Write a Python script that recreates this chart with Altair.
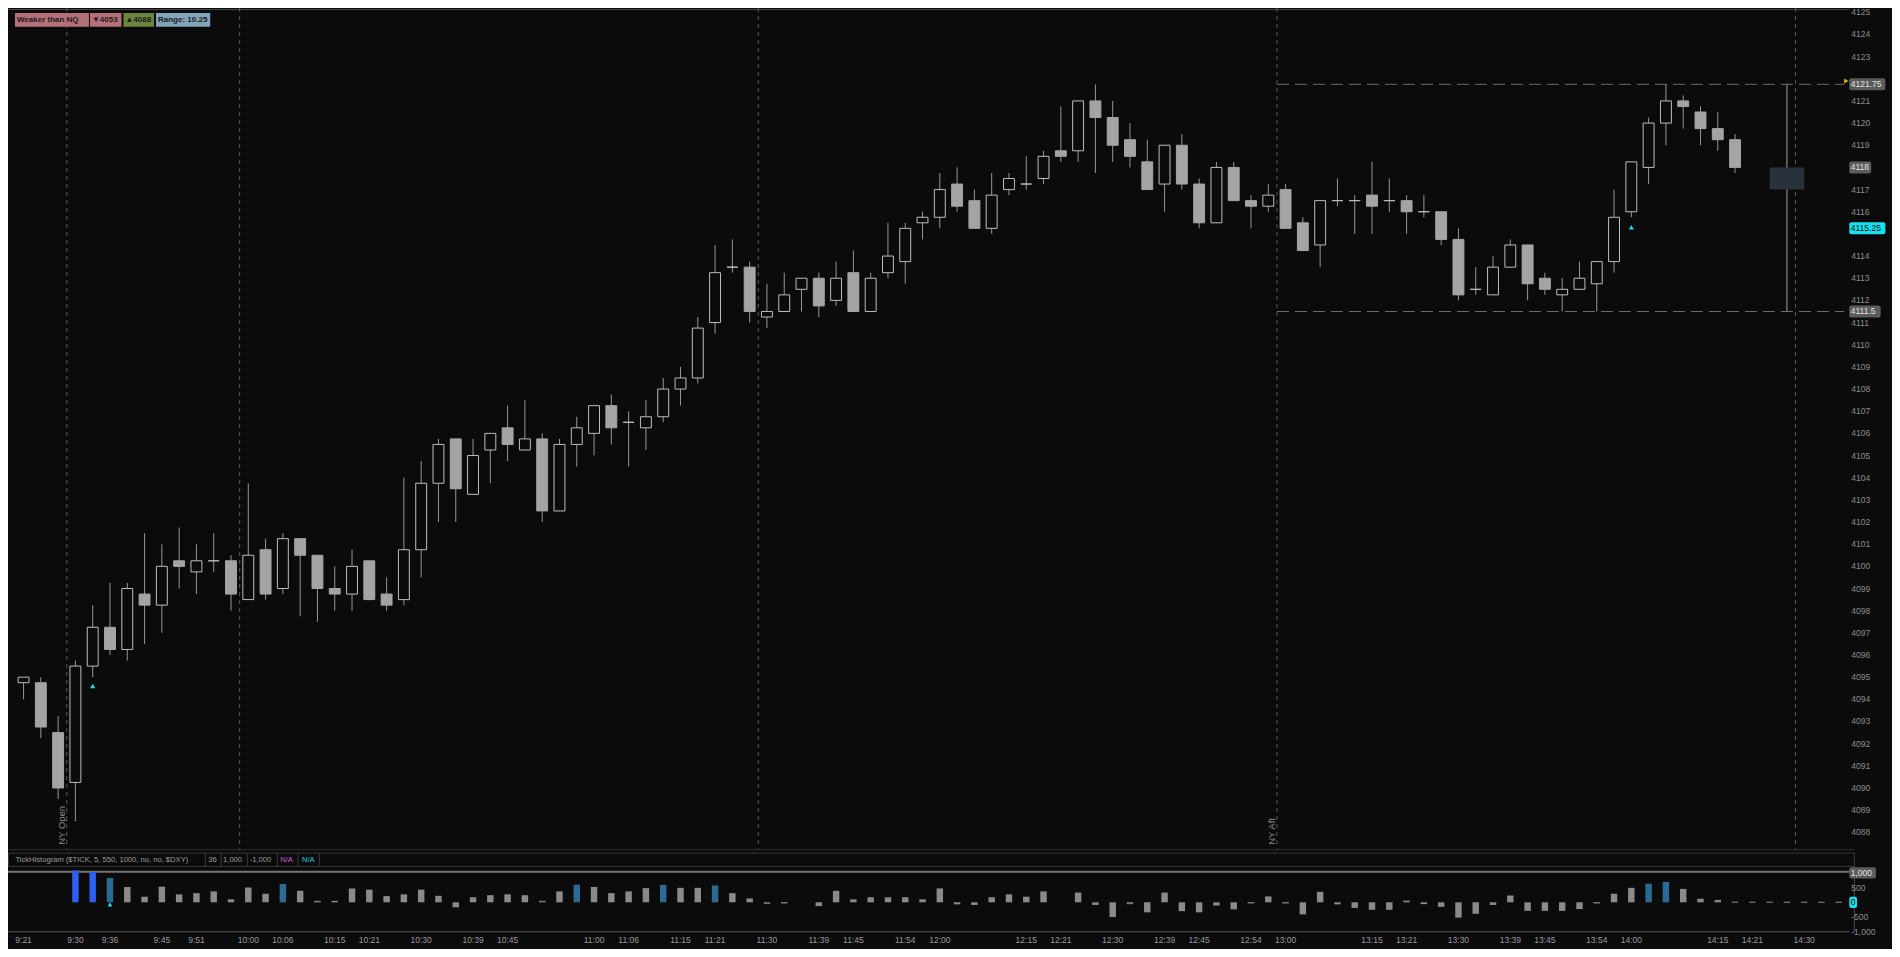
# %%
import altair as alt
import pandas as pd

# %%
# 3-minute candles, first bar 9:21
first_bar = "9:21"
opens = [
    4094.75, 4094.75, 4092.5, 4090.25, 4095.5, 4097.25, 4096.25, 4098.75, 4098.25, 4100.25,
    4099.75, 4100.25, 4100.25, 4098.5, 4100.75, 4099, 4101.25, 4100.5, 4099, 4098.75,
    4100.25, 4098.75, 4098.5, 4100.75, 4103.75, 4105.75, 4103.25, 4105.25, 4106.25, 4105.25,
    4105.75, 4102.5, 4105.5, 4106, 4107.25, 4106.5, 4106.25, 4106.75, 4108, 4108.5,
    4111, 4113.5, 4113.5, 4111.25, 4111.5, 4112.5, 4113, 4112, 4113.25, 4111.5,
    4113.25, 4113.75, 4115.5, 4115.75, 4117.25, 4116.5, 4115.25, 4117, 4117.25, 4117.5,
    4118.75, 4118.75, 4121, 4120.25, 4119.25, 4118.25, 4117.25, 4119, 4117.25, 4115.5,
    4118, 4116.5, 4116.25, 4117, 4115.5, 4114.5, 4116.5, 4116.5, 4116.75, 4116.5,
    4116.5, 4116, 4116, 4114.75, 4112.5, 4112.25, 4113.5, 4114.5, 4113, 4112.25,
    4112.5, 4112.75, 4113.75, 4116, 4118, 4120, 4121, 4120.5, 4119.75, 4119.25,
]
highs = [
    4095, 4095, 4093.25, 4095.75, 4098.25, 4099.25, 4099.25, 4101.5, 4101, 4101.75,
    4101, 4101.5, 4100.5, 4103.75, 4101.25, 4101.5, 4101.25, 4100.5, 4100, 4100.75,
    4100.25, 4099.5, 4104, 4104.75, 4105.75, 4105.75, 4105.75, 4106, 4107.25, 4107.5,
    4106, 4105.75, 4106.75, 4107.25, 4107.75, 4107, 4107.5, 4108.5, 4109, 4111.25,
    4114.5, 4114.75, 4113.75, 4112.75, 4113.25, 4113, 4113.25, 4113.75, 4114.25, 4113.25,
    4115.5, 4115.5, 4116, 4117.75, 4118, 4117, 4117.75, 4117.75, 4118.5, 4118.75,
    4120.75, 4121, 4121.75, 4121, 4120, 4119.25, 4119, 4119.5, 4117.5, 4118.25,
    4118.25, 4116.75, 4117.25, 4117.25, 4115.75, 4116.5, 4117.5, 4116.75, 4118.25, 4117.5,
    4116.75, 4116.75, 4116, 4115.25, 4113.5, 4114, 4114.75, 4114.5, 4113.25, 4113,
    4113.75, 4113.75, 4117, 4118.25, 4120.25, 4121.75, 4121.25, 4120.75, 4120.5, 4119.5,
]
lows = [
    4094, 4092.25, 4089.5, 4088.5, 4095, 4096, 4095.75, 4096.5, 4097, 4099,
    4098.75, 4099.75, 4098, 4098.5, 4098.5, 4098.75, 4097.75, 4097.5, 4098, 4098,
    4098.5, 4098, 4098.25, 4099.5, 4102, 4102, 4103.25, 4103.75, 4104.75, 4105.25,
    4102, 4102.5, 4104.5, 4105, 4105.5, 4104.5, 4105.25, 4106.5, 4107.25, 4108.25,
    4110.5, 4113.25, 4111, 4110.75, 4111.5, 4111.5, 4111.25, 4111.75, 4111.5, 4111.5,
    4113, 4112.75, 4114.75, 4115.25, 4116, 4115.25, 4115, 4116.75, 4117, 4117.25,
    4118.25, 4118.25, 4117.75, 4118.25, 4118, 4117, 4116, 4117, 4115.25, 4115.5,
    4116.5, 4115.25, 4116, 4115.25, 4114.25, 4113.5, 4116.25, 4115, 4115, 4116,
    4115, 4115.75, 4114.5, 4112, 4112.25, 4112.25, 4113.5, 4112, 4112.25, 4111.5,
    4112.5, 4111.5, 4113.25, 4115.75, 4117.25, 4119, 4119.75, 4119, 4118.75, 4117.75,
]
closes = [
    4095, 4092.75, 4090, 4095.5, 4097.25, 4096.25, 4099, 4098.25, 4100, 4100,
    4100.25, 4100.25, 4098.75, 4100.5, 4098.75, 4101.25, 4100.5, 4099, 4098.75, 4100,
    4098.5, 4098.25, 4100.75, 4103.75, 4105.5, 4103.5, 4105, 4106, 4105.5, 4105.75,
    4102.5, 4105.5, 4106.25, 4107.25, 4106.25, 4106.5, 4106.75, 4108, 4108.5, 4110.75,
    4113.25, 4113.5, 4111.5, 4111.5, 4112.25, 4113, 4111.75, 4113, 4111.5, 4113,
    4114, 4115.25, 4115.75, 4117, 4116.25, 4115.25, 4116.75, 4117.5, 4117.25, 4118.5,
    4118.5, 4121, 4120.25, 4119, 4118.5, 4117, 4119, 4117.25, 4115.5, 4118,
    4116.5, 4116.25, 4116.75, 4115.25, 4114.25, 4116.5, 4116.5, 4116.5, 4116.25, 4116.5,
    4116, 4116, 4114.75, 4112.25, 4112.5, 4113.5, 4114.5, 4112.75, 4112.5, 4112.5,
    4113, 4113.75, 4115.75, 4118.25, 4120, 4121, 4120.75, 4119.75, 4119.25, 4118,
]

# $TICK histogram, first bar 9:30 (None = no bar, trailing zeros = empty future slots)
tick_start = "9:30"
tick_vals = [
    1080, 1030, 820, 520, 190, 530, 270, 310, 370, 100,
    500, 290, 620, 390, 30, 50, 470, 430, 210, 270,
    430, 220, -170, 170, 240, 270, 240, 30, 370, 600,
    520, 310, 370, 480, 590, 490, 490, 570, 310, 130,
    -50, -20, None, -130, 390, 100, 170, 170, 170, 100,
    470, -70, -90, 170, 270, 190, 370, None, 330, -90,
    -500, -40, -340, 330, -300, -340, -110, -240, -20, 200,
    -20, -410, 355, -70, -190, -255, -255, 40, -60, -155,
    -520, -390, -90, 230, -290, -290, -290, -230, -20, 290,
    490, 630, 690, 455, 120, 80, 0, 0, 0, 0,
    0, 0, 0,
]
tick_params = (550, 1000)

time_labels = [
    "9:21", "9:30", "9:36", "9:45", "9:51", "10:00", "10:06", "10:15", "10:21",
    "10:30", "10:39", "10:45", "11:00", "11:06", "11:15", "11:21", "11:30",
    "11:39", "11:45", "11:54", "12:00", "12:15", "12:21", "12:30", "12:39",
    "12:45", "12:54", "13:00", "13:15", "13:21", "13:30", "13:39", "13:45",
    "13:54", "14:00", "14:15", "14:21", "14:30",
]
session_breaks = ["9:30", "10:00", "11:30", "13:00", "14:30"]
session_names = ["NY Open", "", "", "NY Aft", ""]
range_from = "13:00"
price_ticks = list(range(4088, 4126))
tick_axis = [1000, 500, 0, -500, -1000]
signal_times = ["9:33", "14:00"]
signal_prices = [4094.6, 4115.3]
tick_signal_time, tick_signal_val = "9:36", -70
study_level = 4115.25
proj_time, proj_lo, proj_hi = "14:27", 4117, 4118
badge_texts = ["Weaker than NQ", "▼4053", "▲4088"]

# %%
W, H = 1884, 941
SX, SY = W / 1900, H / 957
BG = "#0b0b0b"
FONT = "Liberation Sans, Arial, sans-serif"
ONE = pd.DataFrame({"k": [0]})


def px(r):
    return r * SX


def py(r):
    return r * SY


def bar_index(t):
    h, m = (int(s) for s in t.split(":"))
    h0, m0 = (int(s) for s in first_bar.split(":"))
    return ((h * 60 + m) - (h0 * 60 + m0)) / 3


def ref_idx(r):
    # screen x of the reference -> bar number
    return (r - 10.7) / 17.53


def price_at(r):
    return 4121 - (r - 94.5) / 22.54


xs = alt.Scale(domain=[ref_idx(0), ref_idx(1857)], range=[0, px(1857)], nice=False, zero=False)
ps = alt.Scale(domain=[price_at(856), price_at(0)], range=[py(856), 0], nice=False, zero=False)
ts = alt.Scale(domain=[-1000, 1000], range=[py(939.5), py(879.5)], nice=False, zero=False)


def X(f):
    return alt.X(f, scale=xs, axis=None, title=None)


def YP(f):
    return alt.Y(f, scale=ps, axis=None, title=None)


def YT(f):
    return alt.Y(f, scale=ts, axis=None, title=None)


def hline(y, x0, x1, color, width=1):
    return alt.Chart(ONE).mark_rule(color=color, strokeWidth=width).encode(
        x=alt.value(px(x0)), x2=alt.value(px(x1)), y=alt.value(py(y))
    )


def vline(x, y0, y1, color, width=1):
    return alt.Chart(ONE).mark_rule(color=color, strokeWidth=width).encode(
        x=alt.value(px(x)), y=alt.value(py(y0)), y2=alt.value(py(y1))
    )


fmt = lambda p: f"{p:g}"

# %%
cd = pd.DataFrame({"idx": range(len(opens)), "open": opens, "high": highs, "low": lows, "close": closes})
cd["lo"] = cd[["open", "close"]].min(axis=1)
cd["hi"] = cd[["open", "close"]].max(axis=1)
up = cd[cd["close"] >= cd["open"]]
dn = cd[cd["close"] < cd["open"]]

after = cd[cd["idx"] >= bar_index(range_from)]
rng_hi, rng_lo = after["high"].max(), after["low"].min()

t0 = bar_index(tick_start)
hd = pd.DataFrame({"idx": [t0 + k for k in range(len(tick_vals))], "v": tick_vals}).dropna()
hd["zero"] = 0
hd["level"] = [
    "extreme" if abs(v) >= tick_params[1] else "high" if abs(v) >= tick_params[0] else "normal"
    for v in hd["v"]
]
flat = hd[hd["v"].abs() < 50]

sess = pd.DataFrame({"idx": [bar_index(t) - 0.5 for t in session_breaks], "name": session_names})

# %%
layers = []

# frame lines
layers.append(hline(1.5, 0, 1857, "#4a4a4a"))
layers.append(hline(856, 0, 1862, "#333333"))
layers.append(
    alt.Chart(ONE).mark_rect(fill=BG, stroke="#3a3a3a", strokeWidth=1).encode(
        x=alt.value(px(0.5)), x2=alt.value(px(1862)), y=alt.value(py(859.5)), y2=alt.value(py(873))
    )
)
layers.append(hline(878.5, 0, 1857, "#727272", 2))
layers.append(hline(939.5, 0, 1857, "#575757"))
layers.append(vline(1862, 873, 940, "#4a4a4a"))

# session separators and names
layers.append(
    alt.Chart(sess).mark_rule(color="#575757", strokeDash=[4, 4], strokeWidth=1).encode(
        x=X("idx:Q"), y=alt.value(0), y2=alt.value(py(855))
    )
)
layers.append(
    alt.Chart(sess).mark_text(angle=270, align="left", baseline="bottom", fontSize=9.5,
                              color="#8a8a8a", font=FONT).encode(
        x=X("idx:Q"), y=alt.value(py(851)), text="name:N"
    )
)

# range since the afternoon session
rl = pd.DataFrame({"p": [rng_hi, rng_lo], "x0": bar_index(range_from) - 0.5, "x1": ref_idx(1857)})
layers.append(
    alt.Chart(rl).mark_rule(color="#6c6c6c", strokeDash=[12, 6], strokeWidth=1).encode(
        x=X("x0:Q"), x2="x1:Q", y=YP("p:Q")
    )
)
rv = pd.DataFrame({"idx": [bar_index(proj_time)], "lo": [rng_lo], "hi": [rng_hi],
                   "b0": [proj_lo], "b1": [proj_hi]})
layers.append(
    alt.Chart(rv).mark_rule(color="#a0a0a0", strokeWidth=1).encode(x=X("idx:Q"), y=YP("lo:Q"), y2="hi:Q")
)
rv["x0"] = rv["idx"] - 1
rv["x1"] = rv["idx"] + 1
layers.append(
    alt.Chart(rv).mark_rect(fill="#29323a").encode(x=X("x0:Q"), x2="x1:Q", y=YP("b0:Q"), y2="b1:Q")
)

# candles
layers.append(
    alt.Chart(cd).mark_rule(color="#969696", strokeWidth=1).encode(x=X("idx:Q"), y=YP("low:Q"), y2="high:Q")
)
layers.append(
    alt.Chart(up).mark_bar(size=px(11), fill=BG, stroke="#bdbdbd", strokeWidth=1).encode(
        x=X("idx:Q"), y=YP("lo:Q"), y2="hi:Q"
    )
)
layers.append(
    alt.Chart(dn).mark_bar(size=px(11), fill="#a4a4a4", stroke="#a4a4a4", strokeWidth=1).encode(
        x=X("idx:Q"), y=YP("lo:Q"), y2="hi:Q"
    )
)
sig = pd.DataFrame({"idx": [bar_index(t) for t in signal_times], "p": signal_prices})
layers.append(
    alt.Chart(sig).mark_point(shape="triangle-up", filled=True, size=26, color="#1fd8e6", opacity=1).encode(
        x=X("idx:Q"), y=YP("p:Q")
    )
)

# price axis (tags hide the plain labels they sit on)
tag_levels = [rng_hi, closes[-1], study_level, rng_lo]
pt = pd.DataFrame({"p": [p for p in price_ticks if min(abs(p - t) for t in tag_levels) > 0.3],
                   "x": ref_idx(1864)})
layers.append(
    alt.Chart(pt).mark_text(align="left", baseline="middle", fontSize=8.5, color="#8e8e8e", font=FONT).encode(
        x=X("x:Q"), y=YP("p:Q"), text=alt.Text("p:Q", format="d")
    )
)


def tags(rows, half):
    df = pd.DataFrame(rows, columns=["p", "label", "fill", "ink"])
    df["x0"] = ref_idx(1862)
    df["x1"] = [ref_idx(1862 + 4.8 * len(s) + 3) for s in df["label"]]
    df["xt"] = ref_idx(1863.5)
    df["y0"] = df["p"] - half
    df["y1"] = df["p"] + half
    return df


price_tags = tags(
    [(rng_hi, fmt(rng_hi), "#5c5c5c", "#e2e2e2"),
     (closes[-1], fmt(closes[-1]), "#5c5c5c", "#e2e2e2"),
     (study_level, fmt(study_level), "#19e0ef", "#0b0b0b"),
     (rng_lo, fmt(rng_lo), "#5c5c5c", "#e2e2e2")],
    0.27,
)
layers.append(
    alt.Chart(price_tags).mark_rect(cornerRadius=2).encode(
        x=X("x0:Q"), x2="x1:Q", y=YP("y0:Q"), y2="y1:Q", fill=alt.Fill("fill:N", scale=None)
    )
)
layers.append(
    alt.Chart(price_tags).mark_text(align="left", baseline="middle", fontSize=8.5, font=FONT).encode(
        x=X("xt:Q"), y=YP("p:Q"), text="label:N", color=alt.Color("ink:N", scale=None)
    )
)
mk = pd.DataFrame({"x": [ref_idx(1859)], "p": [rng_hi + 0.15]})
layers.append(
    alt.Chart(mk).mark_point(shape="triangle-right", filled=True, size=26, color="#dfae00", opacity=1).encode(
        x=X("x:Q"), y=YP("p:Q")
    )
)

# tick histogram
layers.append(
    alt.Chart(hd).mark_bar(size=px(6.5)).encode(
        x=X("idx:Q"), y=YT("zero:Q"), y2="v:Q",
        color=alt.Color("level:N", legend=None,
                        scale=alt.Scale(domain=["extreme", "high", "normal"],
                                        range=["#2d60f2", "#2b6b93", "#8a8a8a"])),
    )
)
layers.append(
    alt.Chart(flat).mark_tick(orient="horizontal", size=px(6.5), thickness=1.5, color="#8a8a8a").encode(
        x=X("idx:Q"), y=YT("v:Q")
    )
)
ts_sig = pd.DataFrame({"idx": [bar_index(tick_signal_time)], "v": [tick_signal_val]})
layers.append(
    alt.Chart(ts_sig).mark_point(shape="triangle-up", filled=True, size=22, color="#1fd8e6", opacity=1).encode(
        x=X("idx:Q"), y=YT("v:Q")
    )
)
tick_tags = tags(
    [(1000, "1,000", "#5c5c5c", "#e2e2e2"), (0, "0", "#19e0ef", "#0b0b0b")],
    190,
)
plain = pd.DataFrame({"v": [v for v in tick_axis if v not in (1000, 0)], "x": ref_idx(1864)})
plain["label"] = [f"{v:,}" for v in plain["v"]]
layers.append(
    alt.Chart(plain).mark_text(align="left", baseline="middle", fontSize=8.5, color="#8e8e8e", font=FONT).encode(
        x=X("x:Q"), y=YT("v:Q"), text="label:N"
    )
)
layers.append(
    alt.Chart(tick_tags).mark_rect(cornerRadius=2).encode(
        x=X("x0:Q"), x2="x1:Q", y=YT("y0:Q"), y2="y1:Q", fill=alt.Fill("fill:N", scale=None)
    )
)
layers.append(
    alt.Chart(tick_tags).mark_text(align="left", baseline="middle", fontSize=8.5, font=FONT).encode(
        x=X("xt:Q"), y=YT("p:Q"), text="label:N", color=alt.Color("ink:N", scale=None)
    )
)

# study header strip
head = pd.DataFrame({
    "label": ["TickHistogram ($TICK, 5, 550, 1000, no, no, $DXY)", "36", "1,000", "-1,000", "N/A", "N/A"],
    "x": [ref_idx(r) for r in [2.5, 198, 213, 240, 271, 293]],
    "ink": ["#9c9c9c", "#9c9c9c", "#9c9c9c", "#9c9c9c", "#c65bd6", "#25cbdb"],
})
layers.append(
    alt.Chart(head).mark_text(align="left", baseline="middle", fontSize=7.6, font=FONT).encode(
        x=X("x:Q"), y=alt.value(py(866.5)), text="label:N", color=alt.Color("ink:N", scale=None)
    )
)
seps = pd.DataFrame({"x": [ref_idx(r) for r in [195, 211, 237.5, 268, 289, 310.6]]})
layers.append(
    alt.Chart(seps).mark_rule(color="#3a3a3a", strokeWidth=1).encode(
        x=X("x:Q"), y=alt.value(py(859.5)), y2=alt.value(py(873))
    )
)

# time axis
tl = pd.DataFrame({"label": time_labels, "idx": [bar_index(t) for t in time_labels]})
layers.append(
    alt.Chart(tl).mark_text(align="center", baseline="middle", fontSize=8.5, color="#9a9a9a", font=FONT).encode(
        x=X("idx:Q"), y=alt.value(py(948)), text="label:N"
    )
)

# top-left badges
badges = pd.DataFrame({
    "label": badge_texts + [f"Range: {rng_hi - rng_lo:g}"],
    "x0": [ref_idx(r) for r in [2, 78, 112, 145]],
    "x1": [ref_idx(r) for r in [77, 110, 143, 200]],
    "xt": [ref_idx(r) for r in [4, 80, 114, 147]],
    "fill": ["#b46f79", "#b46f79", "#6b853d", "#82a4b9"],
})
layers.append(
    alt.Chart(badges).mark_rect().encode(
        x=X("x0:Q"), x2="x1:Q", y=alt.value(py(5)), y2=alt.value(py(19)),
        fill=alt.Fill("fill:N", scale=None)
    )
)
layers.append(
    alt.Chart(badges).mark_text(align="left", baseline="middle", fontSize=8, fontWeight="bold",
                                color="#1c1c1c", font=FONT).encode(
        x=X("xt:Q"), y=alt.value(py(12.5)), text="label:N"
    )
)

# %%
chart = (
    alt.layer(*layers)
    .resolve_scale(y="independent")
    .properties(width=W, height=H, background=BG, padding=0,
                autosize=alt.AutoSizeParams(type="none"))
    .configure_view(stroke=None)
)
chart.save("out.html", embed_options={"renderer": "svg", "actions": False})
